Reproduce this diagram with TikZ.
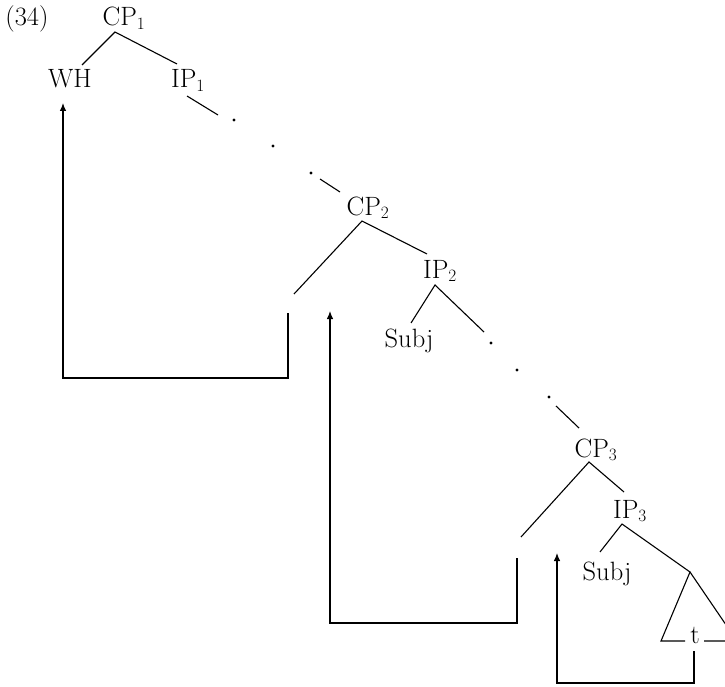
\documentclass[tikz,border=0pt]{standalone}
\usetikzlibrary{arrows.meta}
\begin{document}
\begin{tikzpicture}[x=1pt,y=-1pt,
  lab/.style={inner sep=0pt,anchor=base,font=\fontsize{26.5}{30}\selectfont},
  br/.style={line width=1.1pt},
  mv/.style={line width=1.1pt,-{Latex[length=8pt,width=6.5pt]}},
  dot/.style={circle,fill=black,inner sep=0pt,minimum size=3.2pt}]
\useasboundingbox (0,0) rectangle (725,687);
\clip (0,0) rectangle (725,687);
% labels
\node[lab] (num) at (27,26) {(34)};
\node[lab] (cp1) at (124,26) {CP$_1$};
\node[lab] (wh) at (70,88) {WH};
\node[lab] (ip1) at (188,88) {IP$_1$};
\node[lab] (cp2) at (368,215) {CP$_2$};
\node[lab] (ip2) at (440,278) {IP$_2$};
\node[lab] (subj1) at (409,347) {Subj};
\node[lab] (cp3) at (596,457) {CP$_3$};
\node[lab] (ip3) at (630,518) {IP$_3$};
\node[lab] (subj2) at (607,580) {Subj};
\node[lab] (t) at (695,643) {t};
% dots
\node[dot] (d1) at (234,120) {};
\node[dot] (d2) at (273,146) {};
\node[dot] (d3) at (311,173) {};
\node[dot] (d4) at (491,343) {};
\node[dot] (d5) at (517,370) {};
\node[dot] (d6) at (549,397) {};
% branch points
\coordinate (cp1b) at (115,32);
\coordinate (whT) at (82,65);
\coordinate (ip1T) at (177,64);
\coordinate (ip1b) at (187,96);
\coordinate (ip1e) at (218,115);
\coordinate (cp2s) at (320,179);
\coordinate (cp2T) at (340,192);
\coordinate (cp2b) at (362,221);
\coordinate (spec2) at (294,294);
\coordinate (ip2T) at (427,254);
\coordinate (ip2b) at (435,285);
\coordinate (subj1T) at (411,323);
\coordinate (ip2e) at (484,332);
\coordinate (cp3s) at (556,406);
\coordinate (cp3T) at (579,428);
\coordinate (cp3b) at (589,462);
\coordinate (spec3) at (521,537);
\coordinate (ip3T) at (624,492);
\coordinate (ip3b) at (622,524);
\coordinate (subj2T) at (600,552);
\coordinate (tri) at (690,572);
\coordinate (triL) at (661,641);
\coordinate (triR) at (737,641);
\coordinate (tbl) at (685,641);
\coordinate (tbr) at (704,641);
% tree lines
\draw[br] (whT) -- (cp1b) -- (ip1T);
\draw[br] (ip1b) -- (ip1e);
\draw[br] (cp2s) -- (cp2T);
\draw[br] (spec2) -- (cp2b) -- (ip2T);
\draw[br] (subj1T) -- (ip2b) -- (ip2e);
\draw[br] (cp3s) -- (cp3T);
\draw[br] (spec3) -- (cp3b) -- (ip3T);
\draw[br] (subj2T) -- (ip3b) -- (tri);
\draw[br] (tbl) -- (triL) -- (tri) -- (triR) -- (tbr);
% movement paths
\coordinate (m1s) at (288,313);
\coordinate (m1a) at (288,378);
\coordinate (m1b) at (63,378);
\coordinate (m1e) at (63,103);
\draw[mv] (m1s) -- (m1a) -- (m1b) -- (m1e);
\coordinate (m2s) at (517,558);
\coordinate (m2a) at (517,623);
\coordinate (m2b) at (330,623);
\coordinate (m2e) at (330,311);
\draw[mv] (m2s) -- (m2a) -- (m2b) -- (m2e);
\coordinate (m3s) at (694,651);
\coordinate (m3a) at (694,683);
\coordinate (m3b) at (557,683);
\coordinate (m3e) at (557,553);
\draw[mv] (m3s) -- (m3a) -- (m3b) -- (m3e);
\end{tikzpicture}
\end{document}
